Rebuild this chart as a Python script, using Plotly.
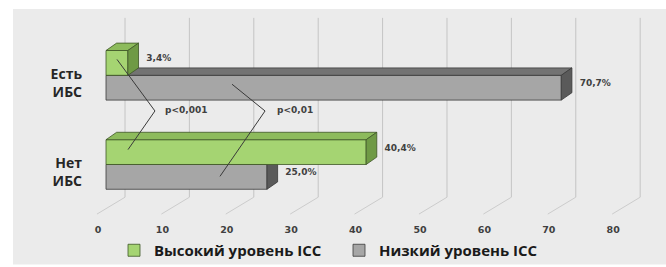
import plotly.graph_objects as go

# ---------------- data ----------------
CATEGORIES = ["Есть<br>ИБС", "Нет<br>ИБС"]
CAT_POS = [1, 0]
HIGH_ICC = [3.4, 40.4]      # Высокий уровень ICC
LOW_ICC = [70.7, 25.0]      # Низкий уровень ICC
VALUE_LABELS_HIGH = ["3,4%", "40,4%"]
VALUE_LABELS_LOW = ["70,7%", "25,0%"]
TICKS = [0, 10, 20, 30, 40, 50, 60, 70, 80]
SERIES_NAMES = ["Высокий уровень ICC", "Низкий уровень ICC"]
P_LABELS = ["p<0,001", "p<0,01"]

# ---------------- geometry (axis units) ----------------
X_RANGE = [-16.46, 86.96]
Y_RANGE = [-0.60, 1.8444]
BAR_H = 0.278
DX, DY = 1.65, 0.083          # 3-D depth of bars
WALL_DX = 2.95                # back wall offset
WALL_TOP, WALL_BOT = 1.644, -0.367
FLOOR_DX, FLOOR_Y = -1.40, -0.556
TICK_SHIFT = -1.24

GREEN = dict(front="#a5d472", top="#8dbb5c", side="#6f9a45", line="#3d5526")
GRAY = dict(front="#a6a6a6", top="#737373", side="#5a5a5a", line="#3a3a3a")

fig = go.Figure()

# back wall grid + floor diagonals (main axes, bottom layer)
gx, gy, fx, fy = [], [], [], []
for v in TICKS:
    gx += [v + WALL_DX, v + WALL_DX, None]
    gy += [WALL_TOP, WALL_BOT, None]
    fx += [v + WALL_DX, v + FLOOR_DX, None]
    fy += [WALL_BOT, FLOOR_Y, None]
fig.add_trace(go.Scatter(x=gx, y=gy, mode="lines", line=dict(color="#c4c4c4", width=1),
                         hoverinfo="skip", showlegend=False, xaxis="x", yaxis="y"))
fig.add_trace(go.Scatter(x=fx, y=fy, mode="lines", line=dict(color="#cccccc", width=1),
                         hoverinfo="skip", showlegend=False, xaxis="x", yaxis="y"))


def add_series(values, centers, col, name, xa, ya, labels):
    fig.add_trace(go.Bar(x=values, y=centers, orientation="h", width=BAR_H, name=name,
                         marker=dict(color=col["front"], line=dict(color=col["line"], width=0.8)),
                         xaxis=xa, yaxis=ya, showlegend=True))
    tx, ty, sx, sy = [], [], [], []
    for v, c in zip(values, centers):
        top, bot = c + BAR_H / 2, c - BAR_H / 2
        tx += [0, v, v + DX, DX, 0, None]
        ty += [top, top, top + DY, top + DY, top, None]
        sx += [v, v + DX, v + DX, v, v, None]
        sy += [top, top + DY, bot + DY, bot, top, None]
    fig.add_trace(go.Scatter(x=tx, y=ty, fill="toself", fillcolor=col["top"], mode="lines",
                             line=dict(color=col["line"], width=0.8), hoverinfo="skip",
                             showlegend=False, xaxis=xa, yaxis=ya))
    fig.add_trace(go.Scatter(x=sx, y=sy, fill="toself", fillcolor=col["side"], mode="lines",
                             line=dict(color=col["line"], width=0.8), hoverinfo="skip",
                             showlegend=False, xaxis=xa, yaxis=ya))
    fig.add_trace(go.Scatter(x=[v + DX + 1.2 for v in values], y=[c + DY / 2 for c in centers],
                             mode="text", text=labels, textposition="middle right",
                             textfont=dict(family="DejaVu Sans", size=9, color="#404040", weight="bold"),
                             hoverinfo="skip", showlegend=False, xaxis=xa, yaxis=ya))


low_centers = [c - BAR_H / 2 for c in CAT_POS]
high_centers = [c + BAR_H / 2 for c in CAT_POS]
add_series(LOW_ICC, low_centers, GRAY, SERIES_NAMES[1], "x2", "y2", VALUE_LABELS_LOW)
add_series(HIGH_ICC, high_centers, GREEN, SERIES_NAMES[0], "x3", "y3", VALUE_LABELS_HIGH)

# significance brackets (annotation lines)
BRACKETS = [
    [(1.71, 1.178), (7.6, 0.60), (3.42, 0.167)],
    [(19.57, 0.90), (24.7, 0.60), (17.7, -0.133)],
]
P_POS = [(8.85, 0.611), (26.2, 0.611)]
for pts in BRACKETS:
    path = "M " + " L ".join(f"{x},{y}" for x, y in pts)
    fig.add_shape(type="path", path=path, xref="x3", yref="y3",
                  line=dict(color="#3a3a3a", width=1))
for (x, y), t in zip(P_POS, P_LABELS):
    fig.add_annotation(x=x, y=y, xref="x3", yref="y3", text=t, showarrow=False,
                       xanchor="left", yanchor="middle",
                       font=dict(family="DejaVu Sans", size=9, color="#404040", weight="bold"))

# background panel
fig.add_shape(type="rect", xref="paper", yref="paper", x0=13 / 666, x1=1.0,
              y0=-47 / 220, y1=1 - 9 / 220, fillcolor="#ebebeb", line=dict(width=0), layer="below")

hidden = dict(visible=False, showgrid=False, zeroline=False, fixedrange=True)
fig.update_layout(
    width=666, height=267,
    margin=dict(l=0, r=0, t=0, b=47),
    paper_bgcolor="white", plot_bgcolor="rgba(0,0,0,0)",
    barmode="overlay",
    xaxis=dict(range=X_RANGE, showgrid=False, zeroline=False, showline=False,
               tickvals=[v + TICK_SHIFT for v in TICKS], ticktext=[str(v) for v in TICKS],
               ticks="outside", ticklen=3, tickcolor="rgba(0,0,0,0)",
               tickfont=dict(family="DejaVu Sans", size=9.5, color="#404040", weight="bold")),
    yaxis=dict(range=Y_RANGE, showgrid=False, zeroline=False, showline=False,
               anchor="free", position=82 / 666,
               tickvals=[c - DY for c in CAT_POS], ticktext=CATEGORIES, ticks="",
               tickfont=dict(family="Open Sans", size=14, color="#262626", weight="bold")),
    xaxis2=dict(range=X_RANGE, overlaying="x", **hidden),
    yaxis2=dict(range=Y_RANGE, overlaying="y", **hidden),
    xaxis3=dict(range=X_RANGE, overlaying="x", **hidden),
    yaxis3=dict(range=Y_RANGE, overlaying="y", **hidden),
    legend=dict(orientation="h", x=114 / 666, xanchor="left", y=-0.15, yanchor="middle",
                bgcolor="rgba(0,0,0,0)", traceorder="reversed",
                font=dict(family="Open Sans", size=15, color="#1a1a1a", weight="bold"),
                entrywidth=180, entrywidthmode="pixels"),
    showlegend=True,
)

fig.write_html("out.html", config={"displayModeBar": False},
               post_script="document.body.style.margin='0';")
